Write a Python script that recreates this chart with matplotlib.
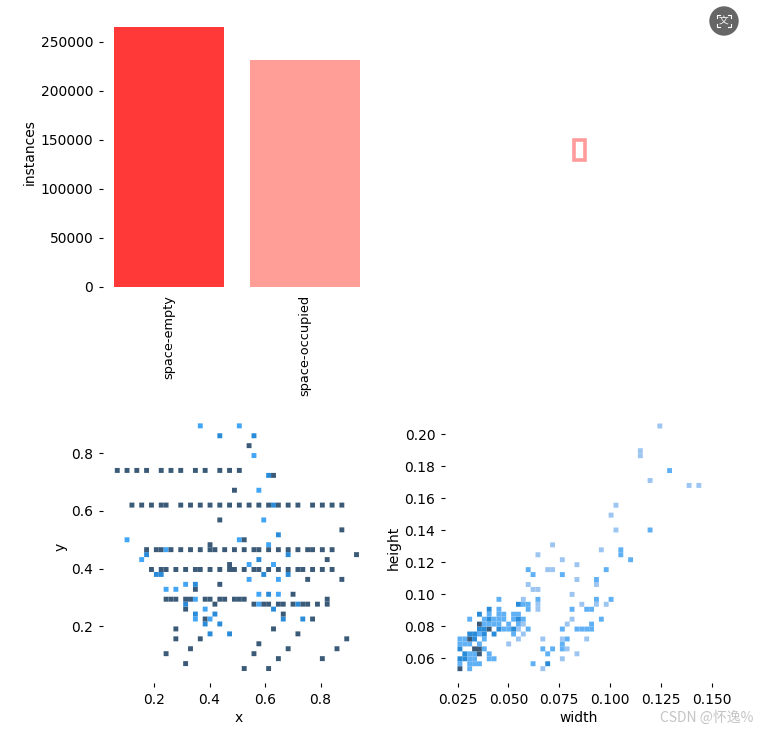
import matplotlib
matplotlib.use('Agg')
import matplotlib.pyplot as plt
import numpy as np
from matplotlib.colors import BoundaryNorm, ListedColormap
from matplotlib.patches import Circle, Rectangle

W, H = 761, 732

classes = ['space-empty', 'space-occupied']
instances = [265300, 231600]
bar_colors = ['#ff3838', '#ff9d97']

box_x = 0.4986
box_y = 0.5
box_w = 0.032
box_h = 0.079

# y value -> x values, one dict per darkness level
left_dark = {
    .825: [.542],
    .741: [.068, .103, .138, .174, .226, .261, .296, .349, .385, .438, .473, .507],
    .723: [.630],
    .672: [.490],
    .620: [.121, .156, .191, .226, .243, .296, .331, .367, .402, .438, .473, .507, .542, .577, .613, .648, .684, .719, .770, .806, .841, .876],
    .569: [.438],
    .534: [.876],
    .499: [.525],
    .482: [.402],
    .466: [.174, .209, .226, .261, .296, .331, .367, .402, .420, .455, .490, .525, .560, .577, .613, .648, .684, .719, .753, .770, .806, .841],
    .449: [.929],
    .431: [.823],
    .415: [.473],
    .398: [.191, .226, .243, .279, .314, .349, .367, .402, .438, .473, .490, .525, .560, .577, .613, .648, .684, .719, .735, .770, .806, .841],
    .362: [.753, .876],
    .346: [.438],
    .328: [.349],
    .311: [.701],
    .294: [.243, .261, .279, .314, .331, .385, .402, .438, .455, .490, .507, .525, .823],
    .277: [.420, .560, .595, .613, .648, .666, .701, .735, .753, .788, .823],
    .260: [.314],
    .243: [.666],
    .225: [.385, .770],
    .192: [.279, .630],
    .175: [.719],
    .157: [.279, .367, .894],
    .140: [.577],
    .123: [.331, .684, .859],
    .105: [.243, .560],
    .088: [.648, .806],
    .071: [.314],
    .053: [.525, .613],
}
left_mid = {
    .860: [.438, .560],
    .723: [.613],
    .620: [.630],
    .517: [.648],
    .449: [.174, .684],
    .431: [.577],
    .379: [.209, .226, .595, .684],
    .346: [.349],
    .311: [.613],
    .277: [.314, .719],
    .260: [.630],
    .243: [.349, .420],
    .225: [.666, .735],
    .209: [.385, .438],
    .175: [.402, .473],
}
left_light = {
    .895: [.367, .507],
    .792: [.560],
    .672: [.577],
    .569: [.595],
    .499: [.103, .507],
    .482: [.613],
    .466: [.243],
    .431: [.156],
    .415: [.542, .630],
    .362: [.542, .648],
    .346: [.314],
    .328: [.243, .279],
    .311: [.577, .648],
    .294: [.349],
    .277: [.577],
    .260: [.385],
    .225: [.349, .402],
}

right_1 = {
    .2052: [.1245],
    .1897: [.1149],
    .1866: [.1149],
    .1712: [.1197],
    .1680: [.1389, .1437],
    .1555: [.1029],
    .1493: [.1005],
    .1401: [.1029],
    .1307: [.0717],
    .1278: [.0957],
    .1247: [.0645],
    .1215: [.0765],
    .1186: [.0837],
    .1155: [.0693, .0717],
    .1090: [.0837],
    .1061: [.0597, .0933],
    .1030: [.0621, .0645],
    .0998: [.0813],
    .0967: [.0573],
    .0938: [.0645, .0861, .0933, .0981],
    .0907: [.0645],
    .0844: [.0813],
    .0813: [.0573, .0789],
    .0781: [.0549],
    .0750: [.0573],
    .0719: [.0549, .0669, .0765, .0885],
    .0688: [.0501],
    .0658: [.0789],
    .0627: [.0837],
    .0596: [.0765],
    .0533: [.0669],
}
right_2 = {
    .1774: [.1293],
    .1401: [.1197],
    .1278: [.1053],
    .1247: [.1053],
    .1215: [.1101],
    .1155: [.0597, .0981],
    .1121: [.0621, .0765],
    .1090: [.0933],
    .0967: [.0453, .0645, .0933, .1005],
    .0938: [.0573, .0597],
    .0907: [.0453, .0597, .0813, .0885, .0909],
    .0875: [.0405, .0453, .0477, .0525, .0549],
    .0844: [.0309, .0381, .0429, .0453, .0477, .0525, .0573, .0957],
    .0813: [.0381, .0405, .0429, .0453, .0501, .0549, .0909],
    .0781: [.0477, .0501, .0597, .0765, .0837, .0861, .0885, .0909],
    .0750: [.0357, .0525],
    .0719: [.0261, .0285, .0381, .0789],
    .0688: [.0261, .0285, .0309, .0357, .0765],
    .0658: [.0381, .0669, .0717, .0765],
    .0627: [.0309, .0333, .0405, .0693],
    .0596: [.0309, .0333, .0405, .0429],
    .0565: [.0261, .0309, .0333, .0357, .0621],
    .0533: [.0309],
}
right_3 = {
    .0938: [.0549],
    .0907: [.0405],
    .0875: [.0357],
    .0844: [.0405, .0549],
    .0781: [.0357, .0381, .0453, .0525],
    .0750: [.0309, .0333, .0381, .0429],
    .0719: [.0333],
    .0658: [.0261],
    .0627: [.0285],
    .0596: [.0261, .0285],
    .0565: [.0693],
}
right_4 = {
    .0813: [.0357],
    .0781: [.0405],
    .0719: [.0309],
    .0658: [.0333, .0357],
    .0627: [.0357],
    .0533: [.0261],
}

left_colors = ['#42a5f5', '#2a8bd8', '#3a5a78']
right_colors = ['#9cc5f2', '#5fb0f5', '#2a8bd8', '#3a5a78']


def flatten(levels):
    xs, ys, ws = [], [], []
    for i, rows in enumerate(levels):
        for y, vals in rows.items():
            for x in vals:
                xs.append(x)
                ys.append(y)
                ws.append(i + 1)
    return xs, ys, ws


def place(x0, y0, x1, y1):
    # pixel box, y from the top
    a = fig.add_axes([x0 / W, 1 - y1 / H, (x1 - x0) / W, (y1 - y0) / H])
    a.tick_params(length=3, pad=4)
    for s in a.spines.values():
        s.set_visible(False)
    return a


def hist_panel(ax, levels, colors, xbins, ybins):
    xs, ys, ws = flatten(levels)
    norm = BoundaryNorm(np.arange(len(colors) + 1) + 0.5, len(colors))
    ax.hist2d(xs, ys, bins=[xbins, ybins], weights=ws, cmin=0.5,
              cmap=ListedColormap(colors), norm=norm, antialiased=True, snap=False)


fig = plt.figure(figsize=(W / 100, H / 100), dpi=100)

ax = place(103, 27, 370, 287)
ax.bar(range(len(classes)), instances, width=0.81, color=bar_colors)
ax.set_xticks(range(len(classes)))
ax.set_xticklabels(classes, rotation=90, fontsize=9.3)
ax.set_xlim(-0.485, 1.478)
ax.set_ylim(0, 265300)
ax.set_ylabel('instances', y=0.519, labelpad=2.5)
ax.tick_params(axis='x', length=0, pad=6)

ax = place(400, 20, 760, 280)
ax.add_patch(Rectangle((box_x - box_w / 2, box_y - box_h / 2), box_w, box_h,
                       fill=False, edgecolor='#ff3838', alpha=0.5, linewidth=2.6))
ax.set_xlim(0, 1)
ax.set_ylim(0, 1)
ax.axis('off')

ax = place(103, 420, 362, 683)
hist_panel(ax, [left_light, left_mid, left_dark], left_colors,
           np.linspace(.059, .938, 51), np.linspace(.044, .904, 51))
ax.set_xlim(.0164, .949)
ax.set_ylim(.0024, .9157)
ax.set_xticks([.2, .4, .6, .8])
ax.set_yticks([.2, .4, .6, .8])
ax.set_xlabel('x', labelpad=3, x=0.523)
ax.set_ylabel('y', y=0.517, labelpad=3)

ax = place(445, 420, 735, 683)
hist_panel(ax, [right_1, right_2, right_3, right_4], right_colors,
           np.linspace(.0249, .1449, 51), np.linspace(.0518, .2067, 51))
ax.set_xlim(.01875, .1615)
ax.set_ylim(.0444, .2089)
ax.set_xticks([.025, .05, .075, .1, .125, .15])
ax.set_xticklabels(['0.025', '0.050', '0.075', '0.100', '0.125', '0.150'])
ax.set_yticks([.06, .08, .1, .12, .14, .16, .18, .2])
ax.set_yticklabels(['0.06', '0.08', '0.10', '0.12', '0.14', '0.16', '0.18', '0.20'])
ax.set_xlabel('width', labelpad=3, x=0.462)
ax.set_ylabel('height', y=0.513, labelpad=2.5)

# overlay in pixels: translate button and watermark
over = fig.add_axes([0, 0, 1, 1], facecolor='none')
over.set_xlim(0, W)
over.set_ylim(H, 0)
over.axis('off')
over.add_patch(Circle((724, 21), 14, color='#666666'))
over.text(724, 21.5, '文', color='white', fontsize=7, ha='center', va='center',
          family=['Noto Sans CJK SC', 'DejaVu Sans'])
for cx, cy, dx, dy in [(717, 15, 1, 1), (731, 15, -1, 1), (717, 27, 1, -1), (731, 27, -1, -1)]:
    over.plot([cx + 3 * dx, cx, cx], [cy, cy, cy + 3 * dy], color='white', lw=0.8)
over.text(753, 718, 'CSDN @怀逸%', color='#c4c4c4', fontsize=10, ha='right', va='center',
          family=['Noto Sans CJK SC', 'DejaVu Sans'])

plt.savefig('out.png', dpi=100)
